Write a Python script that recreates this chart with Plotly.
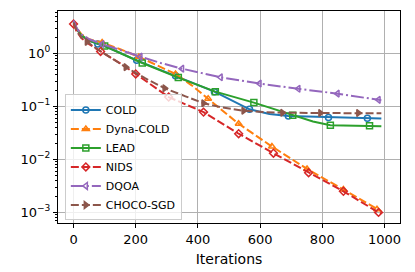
import plotly.graph_objects as go

# ---- data ----
cold_x = [0, 10, 25, 50, 78, 100, 203, 328, 453, 566, 630, 691, 760, 820, 880, 945, 990]
cold_y = [4.0, 2.9, 2.2, 1.75, 1.5, 1.38, 0.74, 0.38, 0.19, 0.088, 0.072, 0.066, 0.064, 0.062, 0.061, 0.060, 0.059]
cold_m = [78, 203, 328, 453, 566, 691, 820, 945]

dyna_x = [0, 10, 25, 50, 92, 150, 210, 280, 328, 380, 433, 531, 638, 751, 868, 976, 990]
dyna_y = [4.2, 3.0, 2.3, 1.85, 1.6, 1.2, 0.86, 0.56, 0.41, 0.25, 0.14, 0.047, 0.0175, 0.0066, 0.0027, 0.00115, 0.00105]
dyna_m = [92, 210, 328, 433, 531, 638, 751, 868, 976]

lead_x = [0, 10, 25, 50, 100, 221, 337, 456, 580, 705, 770, 826, 880, 952, 990]
lead_y = [4.0, 2.9, 2.2, 1.75, 1.38, 0.66, 0.35, 0.19, 0.118, 0.068, 0.052, 0.044, 0.043, 0.043, 0.042]
lead_m = [100, 221, 337, 456, 580, 705, 826, 952]

nids_x = [0, 10, 25, 50, 87, 150, 200, 306, 418, 531, 643, 756, 868, 981, 990]
nids_y = [3.6, 2.6, 1.95, 1.5, 1.09, 0.65, 0.41, 0.15, 0.078, 0.0305, 0.0131, 0.0056, 0.0025, 0.00100, 0.00095]
nids_m = [0, 87, 200, 306, 418, 531, 643, 756, 868, 981]

dqoa_x = [0, 10, 25, 50, 92, 150, 215, 280, 349, 473, 598, 723, 849, 981, 990]
dqoa_y = [4.2, 3.0, 2.3, 1.85, 1.5, 1.15, 0.87, 0.66, 0.515, 0.354, 0.27, 0.215, 0.174, 0.133, 0.131]
dqoa_m = [92, 215, 349, 473, 598, 723, 849, 981]

choco_x = [0, 10, 25, 43, 87, 168, 230, 293, 360, 418, 480, 547, 610, 672, 794, 916, 990]
choco_y = [3.8, 2.7, 2.0, 1.65, 1.1, 0.55, 0.34, 0.22, 0.155, 0.115, 0.095, 0.083, 0.078, 0.076, 0.075, 0.075, 0.074]
choco_m = [43, 168, 293, 418, 547, 672, 794, 916]

x_ticks = [0, 200, 400, 600, 800, 1000]
y_ticks = [1e-3, 1e-2, 1e-1, 1]
y_ticktext = ["10<sup>\u22123</sup>", "10<sup>\u22122</sup>", "10<sup>\u22121</sup>", "10<sup>0</sup>"]
y_minor = [m * 10.0 ** e for e in range(-4, 1) for m in range(2, 10)]

series = [
    ("COLD", cold_x, cold_y, cold_m, "#1f77b4", "solid", "circle-open"),
    ("Dyna-COLD", dyna_x, dyna_y, dyna_m, "#ff7f0e", "8px,3px", "triangle-up-open"),
    ("LEAD", lead_x, lead_y, lead_m, "#2ca02c", "solid", "square-open"),
    ("NIDS", nids_x, nids_y, nids_m, "#d62728", "8px,3px", "diamond-open"),
    ("DQOA", dqoa_x, dqoa_y, dqoa_m, "#9467bd", "13px,3px,2px,3px", "triangle-left-open"),
    ("CHOCO-SGD", choco_x, choco_y, choco_m, "#8c564b", "8px,3px", "triangle-right"),
]

fig = go.Figure()
for name, xs, ys, ms, color, dash, sym in series:
    fig.add_trace(go.Scatter(x=xs, y=ys, mode="lines", line=dict(color=color, width=2, dash=dash),
                             showlegend=False, legendgroup=name, hoverinfo="skip"))
    mx = [x for x in xs if x in ms]
    my = [y for x, y in zip(xs, ys) if x in ms]
    fig.add_trace(go.Scatter(x=mx, y=my, mode="markers",
                             marker=dict(symbol=sym, size=6, color=color, line=dict(color=color, width=1.5)),
                             showlegend=False, legendgroup=name))
    fig.add_trace(go.Scatter(x=[None], y=[None], mode="lines+markers", name=name, legendgroup=name,
                             line=dict(color=color, width=2, dash=dash),
                             marker=dict(symbol=sym, size=6, color=color, line=dict(color=color, width=1.5))))

# page body has an 8px margin, so the figure is sized/margined to compensate
fig.update_layout(
    width=407, height=264,
    margin=dict(l=50, r=15, t=3, b=49),
    paper_bgcolor="white", plot_bgcolor="white",
    font=dict(family="DejaVu Sans", size=13, color="black"),
    legend=dict(x=0.02, y=0.012, xanchor="left", yanchor="bottom",
                bgcolor="rgba(255,255,255,0.8)", bordercolor="#cccccc", borderwidth=1,
                font=dict(size=11), tracegroupgap=0, itemwidth=30),
)
fig.update_xaxes(range=[-50, 1050], tickvals=x_ticks, showgrid=True, gridcolor="#b0b0b0", gridwidth=1,
                 showline=True, linecolor="black", linewidth=1, mirror=True, automargin=False,
                 ticks="outside", ticklen=4, tickcolor="black", zeroline=False,
                 title=dict(text="Iterations", font=dict(size=14), standoff=8))
fig.update_yaxes(type="log", range=[-3.2, 0.8], tickvals=y_ticks, ticktext=y_ticktext,
                 showgrid=True, gridcolor="#b0b0b0", gridwidth=1, automargin=False,
                 showline=True, linecolor="black", linewidth=1, mirror=True,
                 ticks="outside", ticklen=4, tickcolor="black", zeroline=False,
                 minor=dict(tickmode="array", tickvals=y_minor, ticks="outside", ticklen=2,
                            tickcolor="black", showgrid=False))

fig.write_html("out.html")
